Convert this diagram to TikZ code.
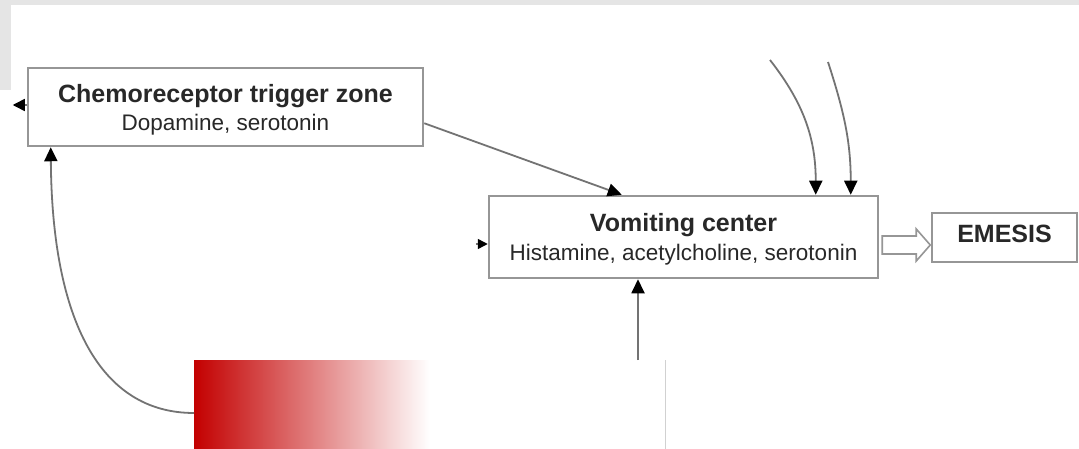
\documentclass[tikz,border=0pt]{standalone}
\usepackage{fontspec}
\setmainfont{Liberation Sans}
\usetikzlibrary{arrows.meta,calc}
\definecolor{bandgray}{RGB}{229,229,229}
\definecolor{boxgray}{RGB}{150,150,150}
\definecolor{linegray}{RGB}{115,115,115}
\definecolor{txt}{RGB}{40,40,40}
\definecolor{cred}{RGB}{195,0,0}
\begin{document}
\begin{tikzpicture}[x=1pt,y=1pt,
  box/.style={draw=boxgray, line width=2.5pt, fill=white, inner sep=0pt},
  conn/.style={draw=linegray, line width=1.8pt, -{Triangle[length=14pt,width=13pt,color=black]}},
  tinyconn/.style={draw=linegray, line width=1.5pt, -{Triangle[length=10pt,width=10pt,color=black]}},
  ttl/.style={font=\fontsize{25}{30}\selectfont\bfseries, text=txt, anchor=base, inner sep=0pt},
  sub/.style={font=\fontsize{22.5}{27}\selectfont, text=txt, anchor=base, inner sep=0pt},
  hollow/.style={draw=boxgray, line width=1.6pt, fill=white, line join=miter}
]
\useasboundingbox (0,0) rectangle (1079,-449);
\fill[white] (0,0) rectangle (1079,-449);
\fill[bandgray] (0,0) rectangle (1079,-5);
\fill[bandgray] (0,0) rectangle (11,-90);

% boxes
\node[box, minimum width=395pt, minimum height=78pt] (ctz) at (225.5,-107) {};
\node[box, minimum width=389pt, minimum height=82pt] (vc) at (683.5,-237) {};
\node[box, minimum width=145pt, minimum height=49pt] (em) at (1004.5,-237.5) {};

% texts
\node[ttl] (ctzt) at ($(ctz.center)+(0,4)$) {Chemoreceptor trigger zone};
\node[sub] (ctzs) at ($(ctz.center)+(0,-24)$) {Dopamine, serotonin};
\node[ttl] (vct) at ($(vc.center)+(0,5)$) {Vomiting center};
\node[sub] (vcs) at ($(vc.center)+(0,-23)$) {Histamine, acetylcholine, serotonin};
\node[ttl] (emt) at ($(em.center)+(0,-5.5)$) {EMESIS};

% bottom source region
\shade[left color=cred, right color=white] (194,-360) rectangle (430,-449);
\node[minimum width=471pt, minimum height=89pt, inner sep=0pt, anchor=north west] (src) at (194,-360) {};
\draw[draw=black!18, line width=1pt] (src.north east) -- (src.south east);

% connectors
\coordinate (ctzout) at ($(ctz.south east)+(0,24)$);
\coordinate (vcin) at ($(vc.north west)+(134,0)$);
\draw[conn] (ctzout) -- (vcin);

\coordinate (t1) at (770,-60);
\coordinate (t2) at (828,-62);
\draw[conn] (t1) to[out=-52,in=90] ($(vc.north west)+(328,0)$);
\draw[conn] (t2) to[out=-72,in=90] ($(vc.north west)+(363,0)$);

\coordinate (lt) at ($(ctz.west)+(-14,2)$);
\draw[tinyconn, -{Triangle[length=12pt,width=12pt,color=black]}] ($(ctz.west)+(0,2)$) -- (lt);

\coordinate (vl) at ($(vc.west)+(-12,-7)$);
\draw[tinyconn] (vl) -- ($(vc.west)+(0,-7)$);

\coordinate (up) at ($(src.north west)+(444,0)$);
\draw[conn] (up) -- (vc.south -| up);

\coordinate (loopstart) at ($(src.north west)+(0,-53)$);
\coordinate (ctzin) at ($(ctz.south west)+(24,0)$);
\draw[conn] (loopstart) .. controls (100,-413) and (52,-320) .. (ctzin);

% hollow arrow to emesis
\begin{scope}[shift={(vc.east)}]
\draw[hollow] (3,1) -- (37,1) -- (37,8) -- (51,-8) -- (37,-24) -- (37,-17) -- (3,-17) -- cycle;
\end{scope}
\end{tikzpicture}
\end{document}
